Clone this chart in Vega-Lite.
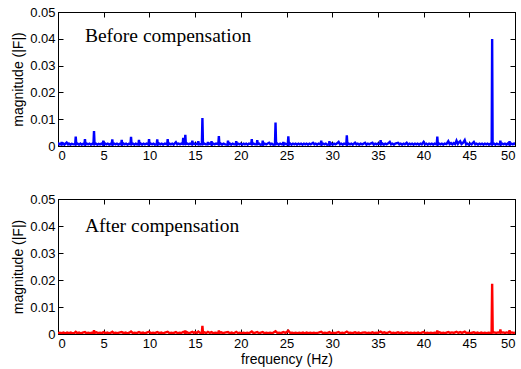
{
  "$schema": "https://vega.github.io/schema/vega-lite/v6.json",
  "padding": {"left": 11, "top": 5, "right": 6, "bottom": 5},
  "background": "white",
  "spacing": 29,
  "config": {
    "font": "Liberation Sans",
    "view": {"stroke": "black", "strokeWidth": 1},
    "axis": {
      "grid": false,
      "domainColor": "black",
      "domainWidth": 1,
      "tickColor": "black",
      "tickSize": -5,
      "labelColor": "black",
      "labelFontSize": 13,
      "labelPadding": 8,
      "titleColor": "black",
      "titleFontSize": 14,
      "titleFontWeight": "normal",
      "titleFont": "Liberation Sans"
    }
  },
  "datasets": {
    "before": [
      {"f": 0, "m": 0.0005}, {"f": 0.1, "m": 0.0009}, {"f": 0.2, "m": 0.0006}, {"f": 0.34, "m": 0.0007}, {"f": 0.4, "m": 0.0015}, {"f": 0.46, "m": 0.0006},
      {"f": 0.6, "m": 0.0009}, {"f": 0.7, "m": 0.0005}, {"f": 0.95, "m": 0.0013}, {"f": 1.1, "m": 0.0006}, {"f": 1.2, "m": 0.0009}, {"f": 1.35, "m": 0.0005}, {"f": 1.5, "m": 0.0008}, {"f": 1.7, "m": 0.0006},
      {"f": 1.88, "m": 0.0007}, {"f": 1.94, "m": 0.0035}, {"f": 2.0, "m": 0.0006}, {"f": 2.15, "m": 0.0009}, {"f": 2.3, "m": 0.0005}, {"f": 2.45, "m": 0.0009}, {"f": 2.6, "m": 0.0005}, {"f": 2.75, "m": 0.0008},
      {"f": 2.89, "m": 0.0006}, {"f": 2.95, "m": 0.0026}, {"f": 3.01, "m": 0.0005}, {"f": 3.15, "m": 0.0009}, {"f": 3.3, "m": 0.0006}, {"f": 3.45, "m": 0.0009}, {"f": 3.6, "m": 0.0005}, {"f": 3.75, "m": 0.0008},
      {"f": 3.88, "m": 0.0007}, {"f": 3.94, "m": 0.0056}, {"f": 4.0, "m": 0.0006}, {"f": 4.15, "m": 0.0009}, {"f": 4.3, "m": 0.0005}, {"f": 4.45, "m": 0.0008}, {"f": 4.6, "m": 0.0006}, {"f": 4.75, "m": 0.0009},
      {"f": 4.9, "m": 0.0005}, {"f": 4.96, "m": 0.002}, {"f": 5.02, "m": 0.0005}, {"f": 5.15, "m": 0.0009}, {"f": 5.3, "m": 0.0006}, {"f": 5.45, "m": 0.0009}, {"f": 5.6, "m": 0.0005}, {"f": 5.75, "m": 0.0008},
      {"f": 5.88, "m": 0.0006}, {"f": 5.94, "m": 0.0025}, {"f": 6.0, "m": 0.0005}, {"f": 6.15, "m": 0.0009}, {"f": 6.3, "m": 0.0006}, {"f": 6.45, "m": 0.0009}, {"f": 6.6, "m": 0.0005}, {"f": 6.75, "m": 0.0008},
      {"f": 6.91, "m": 0.0006}, {"f": 6.97, "m": 0.0023}, {"f": 7.03, "m": 0.0005}, {"f": 7.15, "m": 0.0009}, {"f": 7.3, "m": 0.0006}, {"f": 7.45, "m": 0.0009}, {"f": 7.6, "m": 0.0005}, {"f": 7.75, "m": 0.0008},
      {"f": 7.93, "m": 0.0007}, {"f": 7.99, "m": 0.0034}, {"f": 8.05, "m": 0.0006}, {"f": 8.2, "m": 0.0009}, {"f": 8.35, "m": 0.0005}, {"f": 8.5, "m": 0.0009}, {"f": 8.65, "m": 0.0006},
      {"f": 8.8, "m": 0.0007}, {"f": 8.86, "m": 0.0023}, {"f": 8.92, "m": 0.0006}, {"f": 9.05, "m": 0.0009}, {"f": 9.2, "m": 0.0005}, {"f": 9.35, "m": 0.0009}, {"f": 9.5, "m": 0.0006}, {"f": 9.7, "m": 0.0009},
      {"f": 9.9, "m": 0.0005}, {"f": 9.96, "m": 0.0026}, {"f": 10.02, "m": 0.0006}, {"f": 10.15, "m": 0.0009}, {"f": 10.3, "m": 0.0006}, {"f": 10.45, "m": 0.0009}, {"f": 10.6, "m": 0.0005},
      {"f": 10.8, "m": 0.0007}, {"f": 10.86, "m": 0.0025}, {"f": 10.92, "m": 0.0005}, {"f": 11.05, "m": 0.0009}, {"f": 11.2, "m": 0.0006}, {"f": 11.35, "m": 0.0009}, {"f": 11.5, "m": 0.0005}, {"f": 11.7, "m": 0.0009},
      {"f": 11.94, "m": 0.0006}, {"f": 12.0, "m": 0.0026}, {"f": 12.06, "m": 0.0005}, {"f": 12.2, "m": 0.0009}, {"f": 12.35, "m": 0.0006}, {"f": 12.5, "m": 0.0009}, {"f": 12.65, "m": 0.0005},
      {"f": 12.9, "m": 0.0014}, {"f": 13.05, "m": 0.0006}, {"f": 13.2, "m": 0.0009}, {"f": 13.35, "m": 0.0006}, {"f": 13.5, "m": 0.0009},
      {"f": 13.64, "m": 0.0007}, {"f": 13.7, "m": 0.003}, {"f": 13.76, "m": 0.0008},
      {"f": 13.87, "m": 0.0008}, {"f": 13.93, "m": 0.0042}, {"f": 13.99, "m": 0.0007}, {"f": 14.15, "m": 0.0009}, {"f": 14.3, "m": 0.0006}, {"f": 14.45, "m": 0.0009},
      {"f": 14.64, "m": 0.0006}, {"f": 14.7, "m": 0.002}, {"f": 14.76, "m": 0.0007}, {"f": 14.9, "m": 0.0009}, {"f": 15.05, "m": 0.0006}, {"f": 15.2, "m": 0.0009},
      {"f": 15.29, "m": 0.0007}, {"f": 15.35, "m": 0.0018}, {"f": 15.41, "m": 0.0008}, {"f": 15.55, "m": 0.0006},
      {"f": 15.74, "m": 0.0008}, {"f": 15.8, "m": 0.0104}, {"f": 15.86, "m": 0.0007}, {"f": 16.0, "m": 0.0009}, {"f": 16.15, "m": 0.0006},
      {"f": 16.34, "m": 0.0006}, {"f": 16.4, "m": 0.0015}, {"f": 16.46, "m": 0.0007}, {"f": 16.6, "m": 0.0009},
      {"f": 16.74, "m": 0.0006}, {"f": 16.8, "m": 0.0018}, {"f": 16.86, "m": 0.0005}, {"f": 17.0, "m": 0.0009}, {"f": 17.15, "m": 0.0006}, {"f": 17.3, "m": 0.0009},
      {"f": 17.54, "m": 0.0007}, {"f": 17.6, "m": 0.0037}, {"f": 17.66, "m": 0.0006}, {"f": 17.8, "m": 0.0009}, {"f": 17.95, "m": 0.0005}, {"f": 18.1, "m": 0.0009}, {"f": 18.3, "m": 0.0006},
      {"f": 18.54, "m": 0.0005}, {"f": 18.6, "m": 0.002}, {"f": 18.66, "m": 0.0006}, {"f": 18.8, "m": 0.0009}, {"f": 18.95, "m": 0.0005}, {"f": 19.1, "m": 0.0009}, {"f": 19.25, "m": 0.0006},
      {"f": 19.44, "m": 0.0006}, {"f": 19.5, "m": 0.0018}, {"f": 19.56, "m": 0.0005}, {"f": 19.7, "m": 0.0009}, {"f": 19.85, "m": 0.0006}, {"f": 20.0, "m": 0.0009},
      {"f": 20.15, "m": 0.0005}, {"f": 20.3, "m": 0.0009}, {"f": 20.45, "m": 0.0006}, {"f": 20.6, "m": 0.0009}, {"f": 20.75, "m": 0.0005}, {"f": 20.9, "m": 0.0009},
      {"f": 21.14, "m": 0.0007}, {"f": 21.2, "m": 0.0026}, {"f": 21.26, "m": 0.0006}, {"f": 21.4, "m": 0.0009}, {"f": 21.55, "m": 0.0006},
      {"f": 21.74, "m": 0.0006}, {"f": 21.8, "m": 0.0022}, {"f": 21.86, "m": 0.0007}, {"f": 22.0, "m": 0.0009}, {"f": 22.15, "m": 0.0005},
      {"f": 22.34, "m": 0.0006}, {"f": 22.4, "m": 0.002}, {"f": 22.46, "m": 0.0005}, {"f": 22.6, "m": 0.0009}, {"f": 22.8, "m": 0.0006}, {"f": 22.95, "m": 0.0009},
      {"f": 23.1, "m": 0.0012}, {"f": 23.25, "m": 0.0006}, {"f": 23.4, "m": 0.0009}, {"f": 23.55, "m": 0.0005},
      {"f": 23.74, "m": 0.0006}, {"f": 23.8, "m": 0.0088}, {"f": 23.86, "m": 0.0007}, {"f": 24.0, "m": 0.0009}, {"f": 24.15, "m": 0.0005}, {"f": 24.3, "m": 0.0009}, {"f": 24.45, "m": 0.0006},
      {"f": 24.59, "m": 0.0006}, {"f": 24.65, "m": 0.0015}, {"f": 24.71, "m": 0.0005}, {"f": 24.85, "m": 0.0009}, {"f": 25.0, "m": 0.0006},
      {"f": 25.14, "m": 0.0006}, {"f": 25.2, "m": 0.0036}, {"f": 25.26, "m": 0.0005}, {"f": 25.4, "m": 0.0009}, {"f": 25.55, "m": 0.0005}, {"f": 25.7, "m": 0.0009},
      {"f": 25.85, "m": 0.0006}, {"f": 26.0, "m": 0.0009}, {"f": 26.15, "m": 0.0005}, {"f": 26.3, "m": 0.0009}, {"f": 26.45, "m": 0.0006}, {"f": 26.6, "m": 0.0009},
      {"f": 26.75, "m": 0.0005}, {"f": 26.9, "m": 0.0009}, {"f": 27.05, "m": 0.0006}, {"f": 27.2, "m": 0.0009}, {"f": 27.35, "m": 0.0005}, {"f": 27.5, "m": 0.0009},
      {"f": 27.65, "m": 0.0006}, {"f": 27.9, "m": 0.0012}, {"f": 28.05, "m": 0.0006}, {"f": 28.2, "m": 0.0009}, {"f": 28.35, "m": 0.0005}, {"f": 28.5, "m": 0.0009},
      {"f": 28.74, "m": 0.0006}, {"f": 28.8, "m": 0.002}, {"f": 28.86, "m": 0.0005}, {"f": 29.0, "m": 0.0009}, {"f": 29.15, "m": 0.0006}, {"f": 29.3, "m": 0.0009}, {"f": 29.45, "m": 0.0005},
      {"f": 29.64, "m": 0.0006}, {"f": 29.7, "m": 0.0018}, {"f": 29.76, "m": 0.0005}, {"f": 29.9, "m": 0.0009}, {"f": 30.05, "m": 0.0005}, {"f": 30.2, "m": 0.0009}, {"f": 30.35, "m": 0.0006},
      {"f": 30.5, "m": 0.0009}, {"f": 30.7, "m": 0.0015}, {"f": 30.85, "m": 0.0006}, {"f": 31.0, "m": 0.0009}, {"f": 31.15, "m": 0.0005}, {"f": 31.3, "m": 0.0009},
      {"f": 31.54, "m": 0.0006}, {"f": 31.6, "m": 0.004}, {"f": 31.66, "m": 0.0005}, {"f": 31.8, "m": 0.0009}, {"f": 31.95, "m": 0.0006}, {"f": 32.1, "m": 0.0009}, {"f": 32.25, "m": 0.0005},
      {"f": 32.5, "m": 0.0012}, {"f": 32.65, "m": 0.0006}, {"f": 32.8, "m": 0.0009}, {"f": 32.95, "m": 0.0005}, {"f": 33.1, "m": 0.0009}, {"f": 33.3, "m": 0.0006},
      {"f": 33.6, "m": 0.0012}, {"f": 33.75, "m": 0.0005}, {"f": 33.9, "m": 0.0009}, {"f": 34.05, "m": 0.0006}, {"f": 34.2, "m": 0.0009},
      {"f": 34.4, "m": 0.0012}, {"f": 34.55, "m": 0.0005}, {"f": 34.7, "m": 0.0009}, {"f": 34.85, "m": 0.0006}, {"f": 35.0, "m": 0.0009},
      {"f": 35.24, "m": 0.0007}, {"f": 35.3, "m": 0.0022}, {"f": 35.36, "m": 0.0006}, {"f": 35.5, "m": 0.0009}, {"f": 35.65, "m": 0.0005}, {"f": 35.8, "m": 0.0009},
      {"f": 35.95, "m": 0.0006}, {"f": 36.1, "m": 0.0009}, {"f": 36.3, "m": 0.0015}, {"f": 36.45, "m": 0.0006}, {"f": 36.6, "m": 0.0009}, {"f": 36.75, "m": 0.0005},
      {"f": 36.9, "m": 0.0009}, {"f": 37.2, "m": 0.0012}, {"f": 37.35, "m": 0.0006}, {"f": 37.5, "m": 0.0009}, {"f": 37.65, "m": 0.0005}, {"f": 37.8, "m": 0.0009},
      {"f": 37.95, "m": 0.0006}, {"f": 38.15, "m": 0.0012}, {"f": 38.3, "m": 0.0005}, {"f": 38.45, "m": 0.0009}, {"f": 38.6, "m": 0.0006}, {"f": 38.75, "m": 0.0009},
      {"f": 38.9, "m": 0.0005}, {"f": 39.05, "m": 0.0009}, {"f": 39.2, "m": 0.0006}, {"f": 39.35, "m": 0.0009}, {"f": 39.5, "m": 0.0005}, {"f": 39.65, "m": 0.0009},
      {"f": 39.8, "m": 0.0006}, {"f": 40.0, "m": 0.0015}, {"f": 40.15, "m": 0.0006}, {"f": 40.3, "m": 0.0009}, {"f": 40.45, "m": 0.0005}, {"f": 40.6, "m": 0.0009},
      {"f": 40.75, "m": 0.0006}, {"f": 40.9, "m": 0.0009}, {"f": 41.05, "m": 0.0005}, {"f": 41.2, "m": 0.0009},
      {"f": 41.44, "m": 0.0006}, {"f": 41.5, "m": 0.0035}, {"f": 41.56, "m": 0.0005}, {"f": 41.7, "m": 0.0009}, {"f": 41.85, "m": 0.0006}, {"f": 42.0, "m": 0.0009},
      {"f": 42.15, "m": 0.0005}, {"f": 42.3, "m": 0.0009}, {"f": 42.5, "m": 0.0007}, {"f": 42.7, "m": 0.0018}, {"f": 42.85, "m": 0.0007}, {"f": 43.0, "m": 0.0011},
      {"f": 43.15, "m": 0.0006}, {"f": 43.3, "m": 0.0011}, {"f": 43.45, "m": 0.0007}, {"f": 43.6, "m": 0.002}, {"f": 43.75, "m": 0.0008}, {"f": 43.85, "m": 0.0013},
      {"f": 44.0, "m": 0.0018}, {"f": 44.15, "m": 0.0007}, {"f": 44.3, "m": 0.0011}, {"f": 44.5, "m": 0.0022}, {"f": 44.65, "m": 0.0006}, {"f": 44.8, "m": 0.0009},
      {"f": 44.95, "m": 0.0005}, {"f": 45.1, "m": 0.0009}, {"f": 45.25, "m": 0.0006}, {"f": 45.5, "m": 0.0015}, {"f": 45.65, "m": 0.0006}, {"f": 45.8, "m": 0.0009},
      {"f": 45.95, "m": 0.0005}, {"f": 46.1, "m": 0.0009}, {"f": 46.25, "m": 0.0006}, {"f": 46.4, "m": 0.0009}, {"f": 46.55, "m": 0.0005}, {"f": 46.7, "m": 0.0009},
      {"f": 46.85, "m": 0.0006}, {"f": 47.0, "m": 0.0009}, {"f": 47.15, "m": 0.0005}, {"f": 47.3, "m": 0.0008},
      {"f": 47.45, "m": 0.0006}, {"f": 47.5, "m": 0.0399}, {"f": 47.55, "m": 0.0007},
      {"f": 47.7, "m": 0.0009}, {"f": 47.85, "m": 0.0005}, {"f": 48.0, "m": 0.0009}, {"f": 48.15, "m": 0.0006},
      {"f": 48.34, "m": 0.0006}, {"f": 48.4, "m": 0.002}, {"f": 48.46, "m": 0.0005}, {"f": 48.6, "m": 0.0009}, {"f": 48.75, "m": 0.0006}, {"f": 48.9, "m": 0.0009},
      {"f": 49.05, "m": 0.0005}, {"f": 49.2, "m": 0.0009}, {"f": 49.34, "m": 0.0006}, {"f": 49.4, "m": 0.0018}, {"f": 49.46, "m": 0.0005},
      {"f": 49.6, "m": 0.0009}, {"f": 49.75, "m": 0.0006}, {"f": 49.9, "m": 0.0009}, {"f": 50.0, "m": 0.0005}
    ],
    "after": [
      {"f": 0, "m": 0.0003}, {"f": 0.2, "m": 0.0005}, {"f": 0.4, "m": 0.0003}, {"f": 0.6, "m": 0.0005}, {"f": 0.8, "m": 0.0002}, {"f": 1.0, "m": 0.0005}, {"f": 1.2, "m": 0.0003}, {"f": 1.4, "m": 0.0005}, {"f": 1.6, "m": 0.0002}, {"f": 1.8, "m": 0.0004},
      {"f": 1.94, "m": 0.0008}, {"f": 2.1, "m": 0.0003}, {"f": 2.3, "m": 0.0005}, {"f": 2.5, "m": 0.0002}, {"f": 2.7, "m": 0.0005}, {"f": 2.95, "m": 0.0007}, {"f": 3.1, "m": 0.0003}, {"f": 3.3, "m": 0.0005},
      {"f": 3.5, "m": 0.0003}, {"f": 3.7, "m": 0.0005}, {"f": 3.88, "m": 0.0004}, {"f": 3.94, "m": 0.0014}, {"f": 4.0, "m": 0.0004}, {"f": 4.2, "m": 0.0006}, {"f": 4.4, "m": 0.0003}, {"f": 4.6, "m": 0.0005}, {"f": 4.8, "m": 0.0003},
      {"f": 4.96, "m": 0.0007}, {"f": 5.2, "m": 0.0003}, {"f": 5.4, "m": 0.0005}, {"f": 5.6, "m": 0.0002}, {"f": 5.8, "m": 0.0005}, {"f": 5.94, "m": 0.0008}, {"f": 6.1, "m": 0.0003}, {"f": 6.3, "m": 0.0005}, {"f": 6.5, "m": 0.0003}, {"f": 6.7, "m": 0.0005},
      {"f": 6.97, "m": 0.0007}, {"f": 7.2, "m": 0.0003}, {"f": 7.4, "m": 0.0005}, {"f": 7.6, "m": 0.0002}, {"f": 7.8, "m": 0.0005}, {"f": 7.99, "m": 0.0009}, {"f": 8.2, "m": 0.0003}, {"f": 8.4, "m": 0.0005}, {"f": 8.6, "m": 0.0003},
      {"f": 8.86, "m": 0.0007}, {"f": 9.1, "m": 0.0003}, {"f": 9.3, "m": 0.0005}, {"f": 9.5, "m": 0.0002}, {"f": 9.7, "m": 0.0005}, {"f": 9.96, "m": 0.0008}, {"f": 10.2, "m": 0.0003}, {"f": 10.4, "m": 0.0005}, {"f": 10.6, "m": 0.0003},
      {"f": 10.86, "m": 0.0007}, {"f": 11.1, "m": 0.0003}, {"f": 11.3, "m": 0.0005}, {"f": 11.5, "m": 0.0002}, {"f": 11.7, "m": 0.0005}, {"f": 12.0, "m": 0.0008}, {"f": 12.2, "m": 0.0003}, {"f": 12.4, "m": 0.0005}, {"f": 12.6, "m": 0.0003},
      {"f": 12.9, "m": 0.0007}, {"f": 13.1, "m": 0.0003}, {"f": 13.3, "m": 0.0005}, {"f": 13.5, "m": 0.0004}, {"f": 13.7, "m": 0.0008},
      {"f": 13.87, "m": 0.0004}, {"f": 13.93, "m": 0.0013}, {"f": 13.99, "m": 0.0004}, {"f": 14.15, "m": 0.0006}, {"f": 14.3, "m": 0.0003}, {"f": 14.5, "m": 0.0005},
      {"f": 14.7, "m": 0.0008}, {"f": 14.85, "m": 0.0004}, {"f": 15.0, "m": 0.0007}, {"f": 15.2, "m": 0.0004}, {"f": 15.35, "m": 0.0009}, {"f": 15.55, "m": 0.0004},
      {"f": 15.74, "m": 0.0005}, {"f": 15.8, "m": 0.003}, {"f": 15.86, "m": 0.0004}, {"f": 16.05, "m": 0.0006}, {"f": 16.2, "m": 0.0003},
      {"f": 16.4, "m": 0.0008}, {"f": 16.6, "m": 0.0004}, {"f": 16.8, "m": 0.0007}, {"f": 17.0, "m": 0.0003}, {"f": 17.2, "m": 0.0005}, {"f": 17.4, "m": 0.0004},
      {"f": 17.54, "m": 0.0004}, {"f": 17.6, "m": 0.0013}, {"f": 17.66, "m": 0.0004}, {"f": 17.85, "m": 0.0006}, {"f": 18.05, "m": 0.0003}, {"f": 18.25, "m": 0.0005},
      {"f": 18.6, "m": 0.0007}, {"f": 18.8, "m": 0.0003}, {"f": 19.0, "m": 0.0005}, {"f": 19.2, "m": 0.0002}, {"f": 19.5, "m": 0.0008}, {"f": 19.7, "m": 0.0003},
      {"f": 19.9, "m": 0.0005}, {"f": 20.1, "m": 0.0003}, {"f": 20.3, "m": 0.0005}, {"f": 20.5, "m": 0.0003}, {"f": 20.7, "m": 0.0005}, {"f": 20.9, "m": 0.0003},
      {"f": 21.2, "m": 0.0009}, {"f": 21.4, "m": 0.0003}, {"f": 21.6, "m": 0.0005}, {"f": 21.8, "m": 0.0007}, {"f": 22.0, "m": 0.0003}, {"f": 22.2, "m": 0.0005},
      {"f": 22.4, "m": 0.0007}, {"f": 22.6, "m": 0.0003}, {"f": 22.8, "m": 0.0005}, {"f": 23.0, "m": 0.0003}, {"f": 23.2, "m": 0.0005}, {"f": 23.45, "m": 0.0003},
      {"f": 23.8, "m": 0.001}, {"f": 24.0, "m": 0.0004}, {"f": 24.2, "m": 0.0005}, {"f": 24.4, "m": 0.0003}, {"f": 24.65, "m": 0.0007}, {"f": 24.9, "m": 0.0004},
      {"f": 25.2, "m": 0.0012}, {"f": 25.4, "m": 0.0004}, {"f": 25.6, "m": 0.0005}, {"f": 25.8, "m": 0.0003}, {"f": 26.0, "m": 0.0005}, {"f": 26.2, "m": 0.0003},
      {"f": 26.4, "m": 0.0005}, {"f": 26.6, "m": 0.0003}, {"f": 26.8, "m": 0.0005}, {"f": 27.0, "m": 0.0002}, {"f": 27.2, "m": 0.0005}, {"f": 27.4, "m": 0.0003},
      {"f": 27.6, "m": 0.0005}, {"f": 27.8, "m": 0.0003}, {"f": 28.0, "m": 0.0005}, {"f": 28.2, "m": 0.0003}, {"f": 28.5, "m": 0.0005}, {"f": 28.8, "m": 0.0008},
      {"f": 29.0, "m": 0.0003}, {"f": 29.2, "m": 0.0005}, {"f": 29.45, "m": 0.0003}, {"f": 29.7, "m": 0.0007}, {"f": 29.9, "m": 0.0003}, {"f": 30.1, "m": 0.0005},
      {"f": 30.3, "m": 0.0003}, {"f": 30.5, "m": 0.0005}, {"f": 30.7, "m": 0.0007}, {"f": 30.9, "m": 0.0003}, {"f": 31.1, "m": 0.0005}, {"f": 31.3, "m": 0.0003},
      {"f": 31.6, "m": 0.0009}, {"f": 31.8, "m": 0.0004}, {"f": 32.0, "m": 0.0005}, {"f": 32.2, "m": 0.0003}, {"f": 32.5, "m": 0.0006}, {"f": 32.7, "m": 0.0003},
      {"f": 32.9, "m": 0.0005}, {"f": 33.1, "m": 0.0002}, {"f": 33.3, "m": 0.0005}, {"f": 33.6, "m": 0.0006}, {"f": 33.8, "m": 0.0003}, {"f": 34.0, "m": 0.0005},
      {"f": 34.2, "m": 0.0003}, {"f": 34.4, "m": 0.0006}, {"f": 34.6, "m": 0.0003}, {"f": 34.8, "m": 0.0005}, {"f": 35.0, "m": 0.0004}, {"f": 35.3, "m": 0.0009},
      {"f": 35.5, "m": 0.0004}, {"f": 35.7, "m": 0.0006}, {"f": 35.9, "m": 0.0003}, {"f": 36.1, "m": 0.0005}, {"f": 36.3, "m": 0.0008}, {"f": 36.5, "m": 0.0003},
      {"f": 36.7, "m": 0.0005}, {"f": 36.9, "m": 0.0003}, {"f": 37.2, "m": 0.0006}, {"f": 37.4, "m": 0.0003}, {"f": 37.6, "m": 0.0005}, {"f": 37.8, "m": 0.0002},
      {"f": 38.0, "m": 0.0005}, {"f": 38.2, "m": 0.0006}, {"f": 38.4, "m": 0.0003}, {"f": 38.6, "m": 0.0005}, {"f": 38.8, "m": 0.0003}, {"f": 39.0, "m": 0.0005},
      {"f": 39.2, "m": 0.0003}, {"f": 39.4, "m": 0.0005}, {"f": 39.6, "m": 0.0002}, {"f": 39.8, "m": 0.0005}, {"f": 40.0, "m": 0.0007}, {"f": 40.2, "m": 0.0003},
      {"f": 40.4, "m": 0.0005}, {"f": 40.6, "m": 0.0003}, {"f": 40.8, "m": 0.0005}, {"f": 41.0, "m": 0.0003}, {"f": 41.2, "m": 0.0005},
      {"f": 41.44, "m": 0.0004}, {"f": 41.5, "m": 0.0013}, {"f": 41.56, "m": 0.0004}, {"f": 41.75, "m": 0.0006}, {"f": 41.95, "m": 0.0003}, {"f": 42.15, "m": 0.0005},
      {"f": 42.35, "m": 0.0003}, {"f": 42.7, "m": 0.0007}, {"f": 42.9, "m": 0.0004}, {"f": 43.1, "m": 0.0006}, {"f": 43.3, "m": 0.0004}, {"f": 43.6, "m": 0.0008},
      {"f": 43.8, "m": 0.0004}, {"f": 44.0, "m": 0.0007}, {"f": 44.2, "m": 0.0004}, {"f": 44.5, "m": 0.0009}, {"f": 44.7, "m": 0.0003}, {"f": 44.9, "m": 0.0005},
      {"f": 45.1, "m": 0.0003}, {"f": 45.5, "m": 0.0006}, {"f": 45.7, "m": 0.0003}, {"f": 45.9, "m": 0.0005}, {"f": 46.1, "m": 0.0002}, {"f": 46.3, "m": 0.0005},
      {"f": 46.5, "m": 0.0003}, {"f": 46.7, "m": 0.0005}, {"f": 46.9, "m": 0.0003}, {"f": 47.1, "m": 0.0005}, {"f": 47.3, "m": 0.0004},
      {"f": 47.44, "m": 0.0004}, {"f": 47.5, "m": 0.0186}, {"f": 47.56, "m": 0.0005}, {"f": 47.75, "m": 0.0006}, {"f": 47.95, "m": 0.0004},
      {"f": 48.15, "m": 0.0006}, {"f": 48.34, "m": 0.0005}, {"f": 48.4, "m": 0.0017}, {"f": 48.46, "m": 0.0005}, {"f": 48.7, "m": 0.0006},
      {"f": 48.9, "m": 0.0004}, {"f": 49.1, "m": 0.0006}, {"f": 49.34, "m": 0.0004}, {"f": 49.4, "m": 0.0014}, {"f": 49.46, "m": 0.0004},
      {"f": 49.65, "m": 0.0006}, {"f": 49.85, "m": 0.0004}, {"f": 50.0, "m": 0.0005}
    ]
  },
  "vconcat": [
    {
      "width": 457,
      "height": 134,
      "layer": [
        {
          "data": {"name": "before"},
          "mark": {"type": "line", "color": "#0000ff", "strokeWidth": 2.4, "clip": true},
          "encoding": {
            "x": {"field": "f", "type": "quantitative", "scale": {"domain": [0, 50], "nice": false, "zero": false},
                  "axis": {"orient": "bottom", "values": [0, 5, 10, 15, 20, 25, 30, 35, 40, 45, 50], "title": null}},
            "y": {"field": "m", "type": "quantitative", "scale": {"domain": [0, 0.05], "nice": false},
                  "axis": {"orient": "left", "values": [0, 0.01, 0.02, 0.03, 0.04, 0.05], "format": ".2~f", "title": "magnitude (|F|)"}}
          }
        },
        {
          "data": {"values": [{"label": "Before compensation"}]},
          "mark": {"type": "text", "font": "Liberation Serif", "fontSize": 19.5, "align": "left", "baseline": "middle", "color": "black"},
          "encoding": {
            "x": {"datum": 2.95, "type": "quantitative", "axis": {"orient": "top", "values": [0, 5, 10, 15, 20, 25, 30, 35, 40, 45, 50], "labels": false, "title": null}},
            "y": {"datum": 0.041, "type": "quantitative", "axis": {"orient": "right", "values": [0, 0.01, 0.02, 0.03, 0.04, 0.05], "labels": false, "title": null}},
            "text": {"field": "label"}
          }
        }
      ],
      "resolve": {"axis": {"x": "independent", "y": "independent"}}
    },
    {
      "width": 457,
      "height": 135,
      "layer": [
        {
          "data": {"name": "after"},
          "mark": {"type": "line", "color": "#ff0000", "strokeWidth": 2.4, "clip": true},
          "encoding": {
            "x": {"field": "f", "type": "quantitative", "scale": {"domain": [0, 50], "nice": false, "zero": false},
                  "axis": {"orient": "bottom", "values": [0, 5, 10, 15, 20, 25, 30, 35, 40, 45, 50], "title": "frequency (Hz)", "titlePadding": 2}},
            "y": {"field": "m", "type": "quantitative", "scale": {"domain": [0, 0.05], "nice": false},
                  "axis": {"orient": "left", "values": [0, 0.01, 0.02, 0.03, 0.04, 0.05], "format": ".2~f", "title": "magnitude (|F|)"}}
          }
        },
        {
          "data": {"values": [{"label": "After compensation"}]},
          "mark": {"type": "text", "font": "Liberation Serif", "fontSize": 19.5, "align": "left", "baseline": "middle", "color": "black"},
          "encoding": {
            "x": {"datum": 2.95, "type": "quantitative", "axis": {"orient": "top", "values": [0, 5, 10, 15, 20, 25, 30, 35, 40, 45, 50], "labels": false, "title": null}},
            "y": {"datum": 0.04, "type": "quantitative", "axis": {"orient": "right", "values": [0, 0.01, 0.02, 0.03, 0.04, 0.05], "labels": false, "title": null}},
            "text": {"field": "label"}
          }
        }
      ],
      "resolve": {"axis": {"x": "independent", "y": "independent"}}
    }
  ]
}
